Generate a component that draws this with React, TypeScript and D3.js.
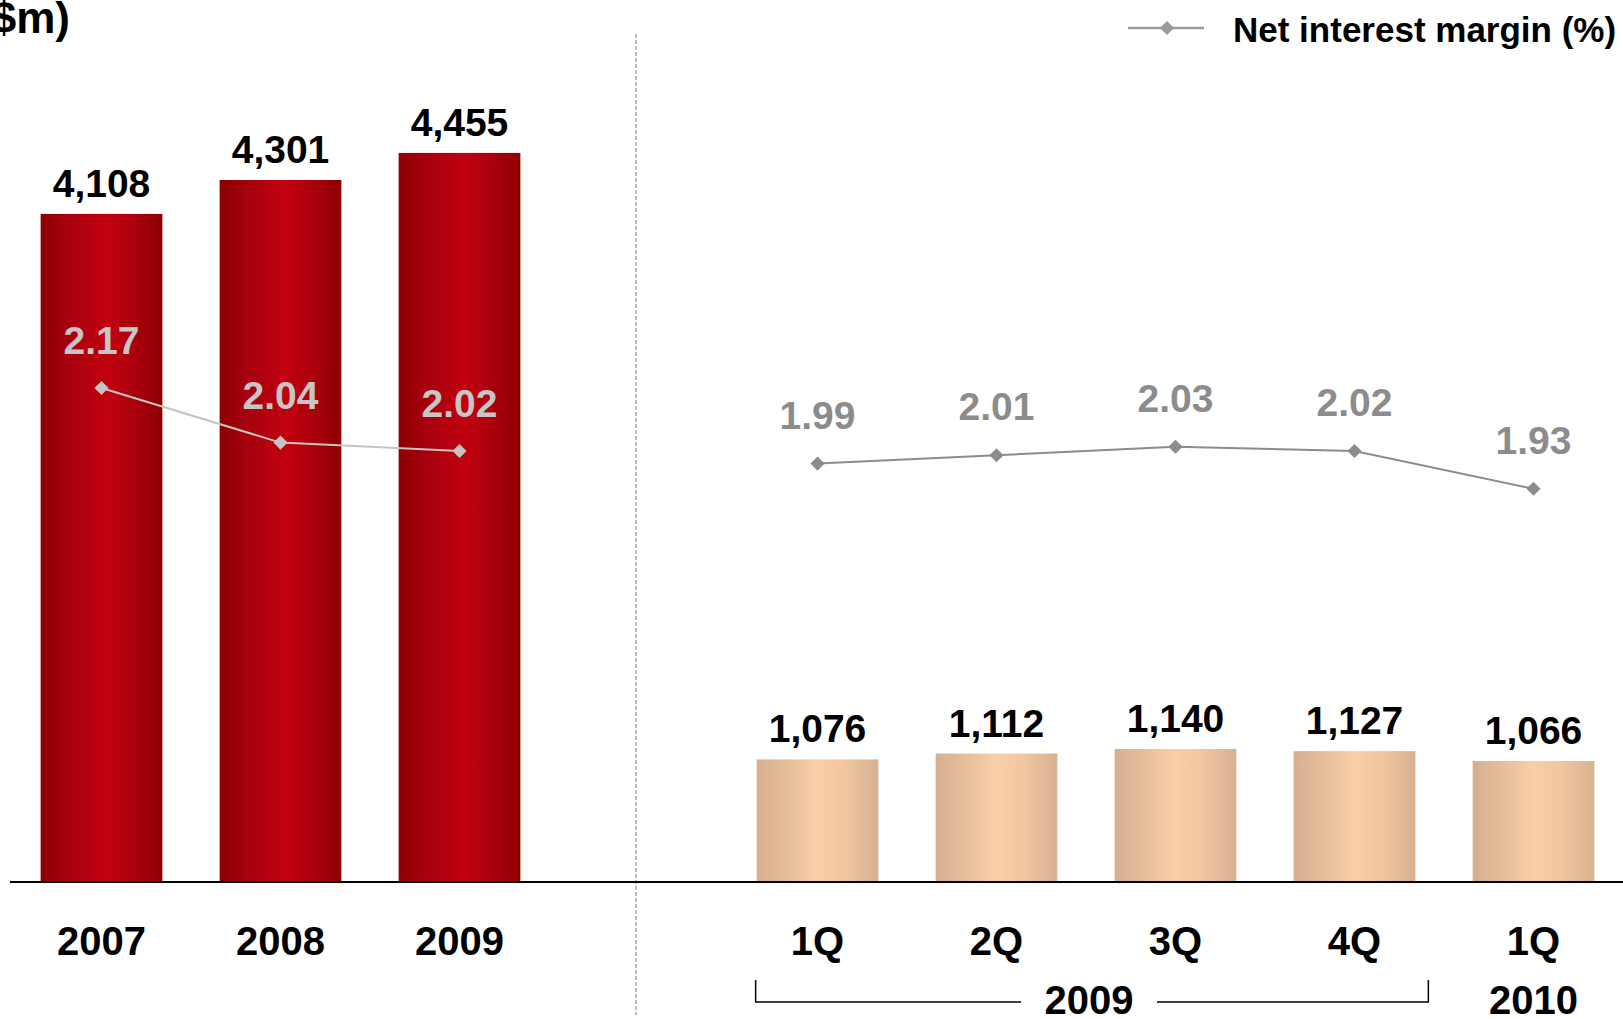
import React from "react";
import * as d3 from "d3";

// Net interest income (S$m) and net interest margin (%)
const annualCats = ["2007", "2008", "2009"];
const annualIncome = [4108, 4301, 4455];
const annualNim = [2.17, 2.04, 2.02];

const quarterCats = ["1Q", "2Q", "3Q", "4Q", "1Q"];
const quarterKeys = ["1Q09", "2Q09", "3Q09", "4Q09", "1Q10"];
const quarterIncome = [1076, 1112, 1140, 1127, 1066];
const quarterNim = [1.99, 2.01, 2.03, 2.02, 1.93];

const unitLabel = "(S$m)";
const legendLabel = "Net interest margin (%)";
const bracketYear = "2009";
const lastYear = "2010";

const W = 1623;
const H = 1019;
const BASE = 882;
const FONT = "'Liberation Sans', Arial, Helvetica, sans-serif";

export default function App() {
  const slots = [...annualCats, "gap", ...quarterKeys];
  const x = d3
    .scaleBand<string>()
    .domain(slots)
    .range([12, W])
    .paddingInner(0.32)
    .paddingOuter(0.16);
  const bw = x.bandwidth();
  const cx = (k: string) => (x(k) as number) + bw / 2;

  const yAnnual = d3.scaleLinear().domain([300, 4500]).range([883.4, 145]);
  const yQuarter = d3.scaleLinear().domain([321, 1140]).range([BASE, 749]);
  const yNim = d3.scaleLinear().domain([1.9, 2.2]).range([501.4, 375.4]);

  const fmtInt = d3.format(",");
  const fmtNim = d3.format(".2f");

  const diamond = d3.symbol().type(d3.symbolSquare).size(100)() as string;

  const annualLine = d3
    .line<number>()
    .x((_, i) => cx(annualCats[i]))
    .y((d) => yNim(d))(annualNim) as string;
  const quarterLine = d3
    .line<number>()
    .x((_, i) => cx(quarterKeys[i]))
    .y((d) => yNim(d))(quarterNim) as string;

  const gapX = cx("gap");
  const bx0 = (x(quarterKeys[0]) as number) - 1;
  const bx1 = (x(quarterKeys[3]) as number) + bw + 13;
  const bMid = (bx0 + bx1) / 2 - 3;

  return (
    <div style={{ position: "fixed", left: 0, top: 0, width: W, height: H, background: "#fff" }}>
      <svg width={W} height={H} style={{ display: "block" }} fontFamily={FONT}>
        <defs>
          <linearGradient id="redBar" x1="0" x2="1" y1="0" y2="0">
            <stop offset="0" stopColor="#8c0000" />
            <stop offset="0.22" stopColor="#a6000e" />
            <stop offset="0.55" stopColor="#c2000f" />
            <stop offset="0.8" stopColor="#a6000c" />
            <stop offset="1" stopColor="#8e0000" />
          </linearGradient>
          <linearGradient id="tanBar" x1="0" x2="1" y1="0" y2="0">
            <stop offset="0" stopColor="#d5b090" />
            <stop offset="0.2" stopColor="#e2bb98" />
            <stop offset="0.5" stopColor="#f9cfa8" />
            <stop offset="0.75" stopColor="#efc49f" />
            <stop offset="1" stopColor="#d6b292" />
          </linearGradient>
        </defs>

        {/* unit label */}
        <text x={70} y={33} fontSize={44} fontWeight="bold" textAnchor="end" fill="#000">
          {unitLabel}
        </text>

        {/* legend */}
        <line x1={1128} x2={1204} y1={28} y2={28} stroke="#9b9b9b" strokeWidth={2.5} />
        <path d={diamond} transform="translate(1167,28) rotate(45)" fill="#9b9b9b" />
        <text x={1233} y={42} fontSize={35} fontWeight="bold" fill="#000">
          {legendLabel}
        </text>

        {/* divider between annual and quarterly panels */}
        <line
          x1={gapX - 2.5}
          x2={gapX - 2.5}
          y1={34}
          y2={1015}
          stroke="#a8a8a8"
          strokeWidth={1.5}
          strokeDasharray="4 2"
        />

        {/* annual bars */}
        {annualIncome.map((v, i) => (
          <g key={"a" + i}>
            <rect
              x={x(annualCats[i])}
              y={yAnnual(v)}
              width={bw}
              height={BASE - yAnnual(v)}
              fill="url(#redBar)"
            />
            <text
              x={cx(annualCats[i])}
              y={yAnnual(v) - 17}
              fontSize={39}
              fontWeight="bold"
              textAnchor="middle"
              fill="#000"
            >
              {fmtInt(v)}
            </text>
            <text
              x={cx(annualCats[i])}
              y={955}
              fontSize={40}
              fontWeight="bold"
              textAnchor="middle"
              fill="#000"
            >
              {annualCats[i]}
            </text>
          </g>
        ))}

        {/* quarterly bars */}
        {quarterIncome.map((v, i) => (
          <g key={"q" + i}>
            <rect
              x={x(quarterKeys[i])}
              y={yQuarter(v)}
              width={bw}
              height={BASE - yQuarter(v)}
              fill="url(#tanBar)"
            />
            <text
              x={cx(quarterKeys[i])}
              y={yQuarter(v) - 17}
              fontSize={39}
              fontWeight="bold"
              textAnchor="middle"
              fill="#000"
            >
              {fmtInt(v)}
            </text>
            <text
              x={cx(quarterKeys[i])}
              y={955}
              fontSize={40}
              fontWeight="bold"
              textAnchor="middle"
              fill="#000"
            >
              {quarterCats[i]}
            </text>
          </g>
        ))}

        {/* baseline */}
        <line x1={10} x2={W} y1={BASE} y2={BASE} stroke="#000" strokeWidth={2} />

        {/* net interest margin, annual */}
        <path d={annualLine} fill="none" stroke="#c4c4c4" strokeWidth={2} />
        {annualNim.map((v, i) => (
          <g key={"an" + i}>
            <path
              d={diamond}
              transform={`translate(${cx(annualCats[i])},${yNim(v)}) rotate(45)`}
              fill="#c4c4c4"
            />
            <text
              x={cx(annualCats[i])}
              y={yNim(v) - 34}
              fontSize={39}
              fontWeight="bold"
              textAnchor="middle"
              fill="#c6c6c6"
            >
              {fmtNim(v)}
            </text>
          </g>
        ))}

        {/* net interest margin, quarterly */}
        <path d={quarterLine} fill="none" stroke="#8c8c8c" strokeWidth={2} />
        {quarterNim.map((v, i) => (
          <g key={"qn" + i}>
            <path
              d={diamond}
              transform={`translate(${cx(quarterKeys[i])},${yNim(v)}) rotate(45)`}
              fill="#8c8c8c"
            />
            <text
              x={cx(quarterKeys[i])}
              y={yNim(v) - 35}
              fontSize={39}
              fontWeight="bold"
              textAnchor="middle"
              fill="#8c8c8c"
            >
              {fmtNim(v)}
            </text>
          </g>
        ))}

        {/* year bracket under quarters */}
        <path
          d={`M${bx0},980 V1002 H${bMid - 68} M${bMid + 68},1002 H${bx1} V980`}
          fill="none"
          stroke="#000"
          strokeWidth={1.5}
        />
        <text x={bMid} y={1014} fontSize={40} fontWeight="bold" textAnchor="middle" fill="#000">
          {bracketYear}
        </text>
        <text
          x={cx(quarterKeys[4])}
          y={1014}
          fontSize={40}
          fontWeight="bold"
          textAnchor="middle"
          fill="#000"
        >
          {lastYear}
        </text>
      </svg>
    </div>
  );
}
